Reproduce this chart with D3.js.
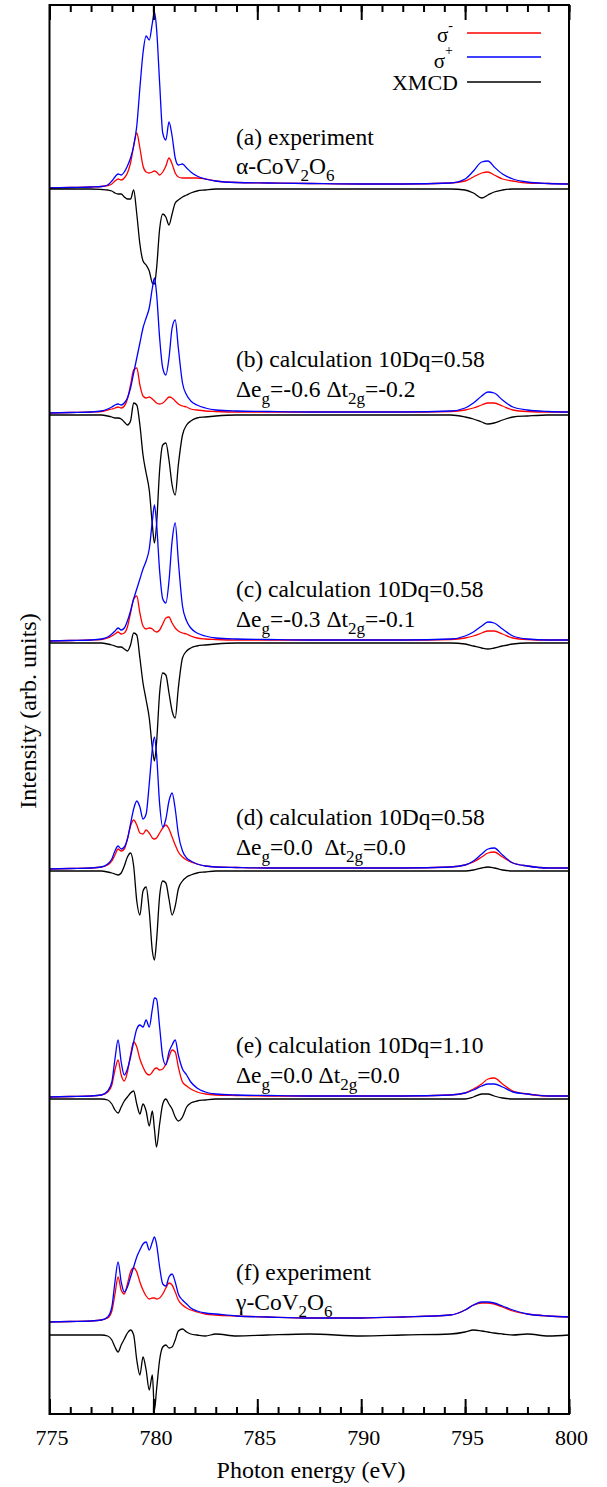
<!DOCTYPE html>
<html>
<head>
<meta charset="utf-8">
<script src="https://cdn.jsdelivr.net/npm/d3@7"></script>
<style>
  body { margin: 0; background: #fff; }
  text { font-family: "Liberation Serif", "Times New Roman", Times, serif; fill: #000; }
</style>
</head>
<body>
<div id="chart"></div>
<script>
// photon energy grid (eV), shared by every curve
let energy = [775, 776, 777, 777.5, 777.8, 778, 778.15, 778.3, 778.45, 778.6,
    778.75, 778.9, 779.05, 779.2, 779.35, 779.5, 779.65, 779.8, 779.95, 780.05,
    780.15, 780.3, 780.45, 780.6, 780.75, 780.9, 781.05, 781.2, 781.4, 781.6,
    781.8, 782.1, 782.5, 783, 784, 785.5, 787.5, 790, 792, 794.3,
    795, 795.4, 795.8, 796.1, 796.4, 796.8, 797.3, 798, 799, 800];

// (a) experiment, alpha-CoV2O6
let aMinus = [0, 0.5, 1, 1.5, 2.5, 4, 7, 9, 8, 10,
    15, 25, 42, 55, 40, 22, 16, 15, 16, 17,
    16, 13, 16, 22, 30, 24, 15, 11, 10, 10,
    10, 10, 9, 7, 5.5, 5, 4.5, 4, 4, 5,
    7, 11, 15, 16, 13, 9, 7, 5, 4.5, 4];
let aPlus = [0, 0.5, 1, 1.5, 3, 7, 11, 14, 13, 16,
    22, 30, 42, 62, 100, 135, 152, 148, 165, 176,
    160, 105, 55, 48, 66, 52, 30, 23, 24, 20,
    16, 12, 9, 7, 5.5, 5, 4.5, 4, 4, 5,
    9, 17, 26, 27, 21, 14, 9, 6, 4.5, 4];
let aXmcd = [0, 0, 0, -0.5, -1, -2, -4, -5, -5, -8,
    -10, -10, -1, -25, -55, -72, -76, -82, -94, -95,
    -80, -40, -25, -28, -36, -25, -14, -11, -8, -6,
    -4, -2, -1, 0, 0, 0, 0, 0, 0, 0,
    -1, -4, -9, -6, -3, -1, 0, 0, 0, 0];

// (b) calculation 10Dq=0.58, deg=-0.6 dt2g=-0.2
let bMinus = [0, 0.5, 1, 1.5, 3, 4, 5, 6, 5, 7,
    14, 28, 43, 45, 28, 17, 15, 16, 14, 12,
    10, 9, 10, 13, 16, 15, 12, 9, 7, 6,
    4, 3, 2, 1.5, 1, 1, 1, 1, 1, 1.5,
    3, 5, 8, 10, 10, 7, 3, 1.5, 1, 1];
let bPlus = [0, 0.5, 1, 2, 4, 6, 8, 9, 8, 10,
    15, 25, 40, 55, 70, 85, 95, 105, 125, 135,
    120, 75, 45, 38, 55, 85, 93, 65, 30, 18,
    12, 8, 5, 3, 2, 1.5, 1, 1, 1, 2,
    5, 10, 17, 21, 20, 13, 6, 3, 1.5, 1];
let bXmcd = [0, 0, 0, 0, -1, -2, -3, -3, -4, -7,
    -10, -6, 12, 10, -10, -40, -58, -75, -110, -128,
    -110, -55, -30, -28, -45, -70, -80, -50, -20, -10,
    -6, -3, -2, -1, 0, 0, 0, 0, 0, 0,
    -2, -4, -7, -9, -8, -5, -2, -1, 0, 0];

// (c) calculation 10Dq=0.58, deg=-0.3 dt2g=-0.1
let cMinus = [0, 0.5, 1, 1.5, 3, 5, 7, 9, 7, 8,
    14, 28, 42, 45, 28, 15, 12, 13, 12, 10,
    9, 11, 17, 23, 24, 18, 13, 10, 8, 7,
    5, 3, 2, 1.5, 1, 1, 1, 1, 1, 1.5,
    3, 5, 8, 10, 10, 7, 3, 1.5, 1, 1];
let cPlus = [0, 0.5, 1, 2, 4, 7, 10, 13, 11, 13,
    20, 30, 42, 52, 62, 72, 80, 92, 120, 136,
    118, 70, 42, 38, 60, 100, 118, 80, 35, 20,
    13, 8, 5, 3, 2, 1.5, 1, 1, 1, 2,
    5, 9, 15, 19, 18, 12, 5, 2, 1, 1];
let cXmcd = [0, 0, 0, 0, -1, -2, -3, -4, -4, -6,
    -8, -2, 10, 8, -15, -40, -57, -75, -105, -118,
    -100, -50, -30, -32, -50, -68, -75, -45, -15, -8,
    -5, -3, -2, -1, 0, 0, 0, 0, 0, 0,
    -1, -3, -5, -6, -5, -3, -1, 0, 0, 0];

// (d) calculation 10Dq=0.58, deg=0.0 dt2g=0.0
let dMinus = [0, 0.5, 1, 2, 4, 8, 14, 20, 18, 20,
    30, 43, 49, 44, 36, 35, 39, 36, 31, 30,
    31, 36, 41, 44, 40, 32, 24, 17, 12, 9,
    7, 5, 3, 2, 1.5, 1, 1, 1, 1, 2,
    4, 7, 12, 16, 17, 12, 6, 3, 1, 1];
let dPlus = [0, 0.5, 1, 2, 5, 10, 18, 23, 20, 22,
    30, 45, 60, 68, 62, 50, 55, 85, 120, 132,
    115, 65, 42, 50, 68, 76, 60, 35, 18, 11,
    8, 5, 3, 2, 1.5, 1, 1, 1, 1, 2,
    4, 8, 15, 20, 21, 14, 6, 3, 1, 1];
let dXmcd = [0, 0, 0, 0, -1, -2, -3, -4, -2, 5,
    14, 18, 5, -30, -44, -20, -16, -40, -80, -89,
    -70, -25, -10, -12, -28, -44, -35, -18, -10, -6,
    -4, -2, -1, 0, 0, 0, 0, 0, 0, 0,
    0, 1, 3, 4, 3, 1, 0, 0, 0, 0];

// (e) calculation 10Dq=1.10, deg=0.0 dt2g=0.0
let eMinus = [0, 0.5, 1, 2, 5, 12, 27, 37, 22, 16,
    25, 42, 55, 50, 38, 30, 24, 22, 25, 28,
    29, 27, 28, 33, 40, 47, 45, 30, 15, 11,
    8, 5, 3, 2, 1.5, 1, 1, 1, 1, 2,
    4, 8, 13, 18, 19, 13, 6, 3, 1, 1];
let ePlus = [0, 0.5, 1, 2, 6, 15, 38, 57, 35, 22,
    28, 40, 55, 68, 72, 70, 77, 70, 88, 99,
    98, 70, 40, 32, 45, 52, 57, 42, 28, 22,
    15, 9, 5, 3, 2, 1.5, 1, 1, 1, 2,
    4, 7, 11, 13, 13, 10, 5, 3, 1, 1];
let eXmcd = [0, 0, 0, 0, -1, -5, -11, -14, -8, -2,
    2, 6, 8, -5, -15, -5, -12, -27, -12, -30,
    -48, -25, -5, 0, -5, -10, -18, -22, -18, -8,
    -4, -2, -1, 0, 0, 0, 0, 0, 0, 0,
    0, 2, 5, 5, 3, 1, 0, 0, 0, 0];

// (f) experiment, gamma-CoV2O6
let fMinus = [0, 0.5, 1, 2, 4, 11, 28, 45, 32, 28,
    38, 50, 54, 50, 40, 32, 26, 23, 24, 24,
    23, 24, 28, 34, 39, 37, 30, 22, 17, 14,
    12, 10, 8, 7, 6, 5, 4, 4, 5, 7,
    12, 17, 19, 19, 18, 15, 11, 8, 6, 5];
let fPlus = [0, 0.5, 1, 2, 5, 15, 40, 60, 40, 30,
    35, 45, 55, 65, 72, 78, 80, 72, 80, 85,
    78, 55, 38, 36, 45, 48, 40, 28, 22, 18,
    14, 11, 9, 8, 6, 5, 4, 4, 5, 7,
    12, 17, 20, 20, 19, 16, 12, 8, 6, 5];
let fXmcd = [0, 0, 0, 0, -1, -5, -12, -17, -10, -4,
    2, 5, 0, -25, -40, -22, -35, -55, -40, -75,
    -55, -25, -12, -10, -13, -12, -5, 4, 6, 3,
    1, 0, -1, 1, -1, 0, 1, -1, 0, 1,
    3, 5, 4, 3, 2, 1, 0, 1, -1, 0];

// vertical stacking offsets (arb. units), one per panel
let sigmaOffsets = [1226, 1001, 773, 545, 317, 92];
let xmcdOffsets = [1225, 999, 771, 543, 315, 79];

let xTicksMajor = [775, 780, 785, 790, 795, 800];

let panelTitles = ["(a) experiment", "(b) calculation 10Dq=0.58", "(c) calculation 10Dq=0.58",
    "(d) calculation 10Dq=0.58", "(e) calculation 10Dq=1.10", "(f) experiment"];
let panelSubtitles = [
    [["α-CoV"], ["2", 1], ["O"], ["6", 1]],
    [["Δe"], ["g", 1], ["=-0.6 Δt"], ["2g", 1], ["=-0.2"]],
    [["Δe"], ["g", 1], ["=-0.3 Δt"], ["2g", 1], ["=-0.1"]],
    [["Δe"], ["g", 1], ["=0.0\u00a0\u00a0Δt"], ["2g", 1], ["=0.0"]],
    [["Δe"], ["g", 1], ["=0.0 Δt"], ["2g", 1], ["=0.0"]],
    [["γ-CoV"], ["2", 1], ["O"], ["6", 1]]
];

//set canvas and margins
let svgWidth = 607;
let svgHeight = 1487;
let margin = { top: 5, right: 38, bottom: 73, left: 49.5 };
let width = svgWidth - margin.left - margin.right;
let height = svgHeight - margin.top - margin.bottom;

let svg = d3.select("#chart").append("svg")
    .attr("width", svgWidth)
    .attr("height", svgHeight)
    .attr("font-family", "Liberation Serif, serif");

let chartGroup = svg.append("g")
    .attr("transform", `translate(${margin.left}, ${margin.top})`);

//scales
let xScale = d3.scaleLinear().domain([775, 800]).range([0, width]);
let yScale = d3.scaleLinear().domain([0, height]).range([height, 0]);

let panels = [
    [aMinus, aPlus, aXmcd], [bMinus, bPlus, bXmcd], [cMinus, cPlus, cXmcd],
    [dMinus, dPlus, dXmcd], [eMinus, ePlus, eXmcd], [fMinus, fPlus, fXmcd]
];

let colors = ["#ff0000", "#0000ff", "#000000"];

panels.forEach((p, k) => {
    p.forEach((series, j) => {
        let off = j === 2 ? xmcdOffsets[k] : sigmaOffsets[k];
        let line = d3.line()
            .x((d, i) => xScale(energy[i]))
            .y(d => yScale(d + off))
            .curve(d3.curveMonotoneX);
        chartGroup.append("path")
            .datum(series)
            .attr("d", line)
            .attr("fill", "none")
            .attr("stroke", colors[j])
            .attr("stroke-width", 1.3);
    });
});

//axes: minor and major ticks, inward, top and bottom
let minorTicks = d3.range(775, 801);
chartGroup.append("g")
    .attr("transform", `translate(0, ${height})`)
    .call(d3.axisBottom(xScale).tickValues(minorTicks).tickSizeInner(-7).tickSizeOuter(0).tickFormat(""));
chartGroup.append("g")
    .attr("transform", `translate(0, ${height})`)
    .attr("class", "xmajor")
    .call(d3.axisBottom(xScale).tickValues(xTicksMajor).tickSizeInner(-15).tickSizeOuter(0).tickPadding(15));
chartGroup.append("g")
    .call(d3.axisTop(xScale).tickValues(minorTicks).tickSizeInner(-7).tickSizeOuter(0).tickFormat(""));
chartGroup.append("g")
    .call(d3.axisTop(xScale).tickValues(xTicksMajor).tickSizeInner(-15).tickSizeOuter(0).tickFormat(""));

chartGroup.selectAll(".domain").remove();
chartGroup.selectAll("g").attr("font-family", null);
chartGroup.selectAll(".tick line").attr("stroke", "#000").attr("stroke-width", 2);
chartGroup.selectAll(".xmajor text")
    .attr("font-size", 22)
    .attr("dx", 2);

//frame
chartGroup.append("rect")
    .attr("width", width)
    .attr("height", height)
    .attr("fill", "none")
    .attr("stroke", "#000")
    .attr("stroke-width", 2);

//panel labels
let titleY = [145, 367, 597, 825, 1053, 1280];
let subY = [174, 397, 627, 855, 1083, 1310];
panelTitles.forEach((t, k) => {
    svg.append("text")
        .attr("x", 236)
        .attr("y", titleY[k])
        .attr("font-size", 23.5)
        .text(t);
    let sub = svg.append("text")
        .attr("x", 236)
        .attr("y", subY[k])
        .attr("font-size", 23.5);
    let shifted = false;
    panelSubtitles[k].forEach(seg => {
        let isSub = seg[1] === 1;
        let dy = isSub && !shifted ? 7 : (!isSub && shifted ? -7 : 0);
        shifted = isSub;
        sub.append("tspan")
            .attr("dy", dy)
            .attr("font-size", isSub ? 17 : 23.5)
            .text(seg[0]);
    });
});

//legend
let legendRows = [
    { y: 33, color: colors[0], sup: "-", supDy: -12, base: 42 },
    { y: 57, color: colors[1], sup: "+", supDy: -13, base: 68 }
];
legendRows.forEach(r => {
    svg.append("line")
        .attr("x1", 467).attr("x2", 541)
        .attr("y1", r.y).attr("y2", r.y)
        .attr("stroke", r.color)
        .attr("stroke-width", 1.3);
    let t = svg.append("text")
        .attr("x", 453)
        .attr("y", r.base)
        .attr("font-size", 21)
        .attr("text-anchor", "end");
    t.append("tspan").text("σ");
    t.append("tspan").attr("dy", r.supDy).attr("font-size", 14).text(r.sup);
});
svg.append("line")
    .attr("x1", 467).attr("x2", 541)
    .attr("y1", 82).attr("y2", 82)
    .attr("stroke", "#000")
    .attr("stroke-width", 1.3);
svg.append("text")
    .attr("x", 458)
    .attr("y", 90)
    .attr("font-size", 22)
    .attr("text-anchor", "end")
    .text("XMCD");

//axis labels
svg.append("text")
    .attr("transform", `translate(36, 711) rotate(-90)`)
    .attr("text-anchor", "middle")
    .attr("font-size", 24)
    .text("Intensity (arb. units)");

svg.append("text")
    .attr("x", 311)
    .attr("y", 1478)
    .attr("text-anchor", "middle")
    .attr("font-size", 24)
    .text("Photon energy (eV)");
</script>
</body>
</html>
